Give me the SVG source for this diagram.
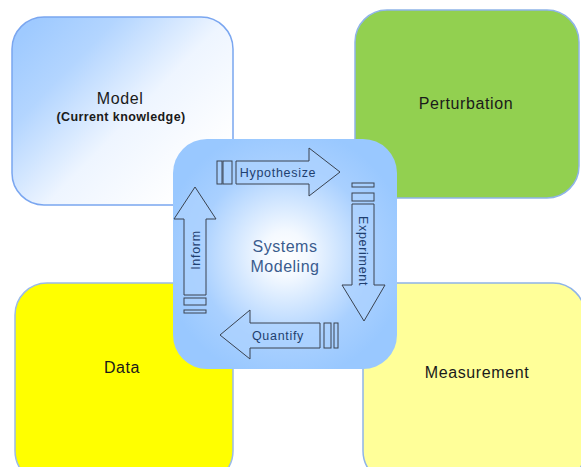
<svg xmlns="http://www.w3.org/2000/svg" width="581" height="467" viewBox="0 0 581 467">
  <defs>
    <linearGradient id="modelFill" x1="0" y1="0.15" x2="0.85" y2="0.85">
      <stop offset="0" stop-color="#9fcaff"/>
      <stop offset="0.25" stop-color="#b3d5ff"/>
      <stop offset="0.6" stop-color="#eef5ff"/>
      <stop offset="1" stop-color="#ffffff"/>
    </linearGradient>
    <radialGradient id="hubFill" cx="0.5" cy="0.5" r="0.55">
      <stop offset="0" stop-color="#ffffff"/>
      <stop offset="0.18" stop-color="#f4f9ff"/>
      <stop offset="0.7" stop-color="#a9d0ff"/>
      <stop offset="1" stop-color="#99c8ff"/>
    </radialGradient>
  </defs>
  <style>
    .box { stroke-width: 1.5; }
    .lbl { font-family: "Liberation Sans", Arial, sans-serif; font-size: 16px; letter-spacing: 0.6px; fill: #1a1a1a; text-anchor: middle; }
    .sub { font-family: "Liberation Sans", Arial, sans-serif; font-size: 12.5px; font-weight: bold; letter-spacing: 0.4px; fill: #1a1a1a; text-anchor: middle; }
    .hub { font-family: "Liberation Sans", Arial, sans-serif; font-size: 16px; letter-spacing: 0.5px; fill: #3a5c8e; text-anchor: middle; }
    .arrow { fill: #acd2ff; fill-opacity: 0.75; stroke: #3a4350; stroke-width: 1; }
    .stripe { fill: #acd2ff; fill-opacity: 0.6; stroke: #3a4350; stroke-width: 1; }
    .alab { font-family: "Liberation Sans", Arial, sans-serif; font-size: 12.5px; letter-spacing: 0.7px; fill: #1f3f6f; text-anchor: middle; }
  </style>

  <g id="model">
    <rect class="box" x="12" y="17" width="221" height="188" rx="32" fill="url(#modelFill)" stroke="#7aa6f0"/>
    <text class="lbl" x="120" y="104">Model</text>
    <text class="sub" x="121" y="121">(Current knowledge)</text>
  </g>

  <g id="perturbation">
    <rect class="box" x="355" y="10" width="224" height="188" rx="32" fill="#92d050" stroke="#8fb4e8"/>
    <text class="lbl" x="466" y="109">Perturbation</text>
  </g>

  <g id="data">
    <rect class="box" x="15" y="283" width="218" height="200" rx="32" fill="#ffff00" stroke="#9bbbe8"/>
    <text class="lbl" x="122" y="373">Data</text>
  </g>

  <g id="measurement">
    <rect class="box" x="363" y="283" width="222" height="200" rx="32" fill="#ffff99" stroke="#8fb4e8"/>
    <text class="lbl" x="477" y="378">Measurement</text>
  </g>

  <g id="systems-modeling">
    <rect x="173" y="139" width="224" height="230" rx="34" fill="url(#hubFill)"/>
    <text class="hub" x="285" y="252">Systems</text>
    <text class="hub" x="285" y="272">Modeling</text>
  </g>

  <g id="connectors">
    <!-- Hypothesize: rightward block arrow along the top -->
    <g id="hypothesize">
      <rect class="stripe" x="217" y="161" width="5" height="23"/>
      <rect class="stripe" x="223" y="161" width="9" height="23"/>
      <polygon class="arrow" points="236,161 309,161 309,148 340,172 309,196 309,184 236,184"/>
      <text class="alab" x="278" y="177">Hypothesize</text>
    </g>
    <!-- Experiment: downward block arrow on the right -->
    <g id="experiment">
      <rect class="stripe" x="352" y="183" width="22" height="4"/>
      <rect class="stripe" x="352" y="193" width="22" height="8"/>
      <polygon class="arrow" points="352,204 374,204 374,285 385,285 364,321 342,285 352,285"/>
      <text class="alab" transform="translate(359,251) rotate(90)">Experiment</text>
    </g>
    <!-- Quantify: leftward block arrow along the bottom -->
    <g id="quantify">
      <rect class="stripe" x="324" y="323" width="7" height="25"/>
      <rect class="stripe" x="334" y="323" width="4" height="25"/>
      <polygon class="arrow" points="320,323 320,348 250,348 250,359 220,335 250,310 250,323"/>
      <text class="alab" x="278" y="340">Quantify</text>
    </g>
    <!-- Inform: upward block arrow on the left -->
    <g id="inform">
      <rect class="stripe" x="184" y="298" width="22" height="7"/>
      <rect class="stripe" x="184" y="310" width="22" height="3"/>
      <polygon class="arrow" points="184,295 184,219 174,219 195,187 216,219 206,219 206,295"/>
      <text class="alab" transform="translate(200,250) rotate(-90)">Inform</text>
    </g>
  </g>
</svg>
